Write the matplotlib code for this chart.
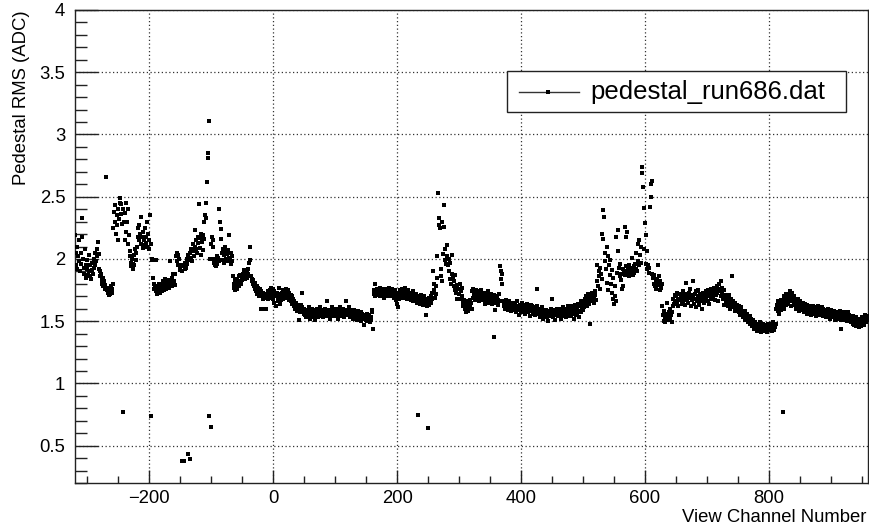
import numpy as np
import matplotlib
matplotlib.use("Agg")
import matplotlib.pyplot as plt
from matplotlib.patches import Rectangle
from matplotlib.lines import Line2D
from matplotlib.ticker import MultipleLocator, FuncFormatter

plt.rcParams['font.family'] = ['Liberation Sans', 'DejaVu Sans']

# Pedestal RMS per view channel, in blocks of 160 channels (first channel given by the key)
rms_m320 = [
    2.19, 2.05, 1.95, 2.10, 1.92, 2.02, 1.98, 2.15, 1.90, 2.05,
    1.96, 2.18, 2.33, 2.00, 1.93, 1.88, 2.08, 1.95, 1.85, 1.99,
    1.92, 1.87, 2.03, 1.90, 1.86, 1.95, 1.84, 1.91, 1.97, 1.88,
    1.93, 2.00, 1.95, 2.05, 1.98, 2.02, 2.08, 2.14, 2.04, 1.92,
    1.90, 1.86, 1.88, 1.83, 1.80, 1.85, 1.78, 1.82, 1.76, 1.79,
    2.66, 1.75, 1.77, 1.73, 1.76, 1.71, 1.74, 1.72, 1.78, 1.73,
    1.76, 1.80, 2.25, 2.38, 2.30, 2.43, 2.20, 2.27, 2.35, 2.15,
    2.40, 2.32, 2.45, 2.49, 2.36, 2.44, 2.28, 2.40, 0.77, 2.30,
    2.37, 2.15, 2.45, 2.22, 2.30, 2.12, 2.40, 2.19, 2.06, 2.02,
    1.97, 1.94, 2.00, 1.92, 1.96, 2.03, 1.95, 2.08, 1.99, 2.05,
    2.10, 2.18, 2.25, 2.15, 2.27, 2.20, 2.12, 2.34, 2.18, 2.22,
    2.09, 2.15, 2.11, 2.25, 2.18, 2.13, 2.30, 2.10, 2.20, 2.08,
    2.15, 2.35, 2.12, 0.74, 2.00, 1.99, 1.85, 1.80, 1.76, 1.78,
    1.99, 1.74, 1.78, 1.72, 1.77, 1.75, 1.80, 1.73, 1.76, 1.79,
    1.74, 1.78, 1.82, 1.75, 1.77, 1.84, 1.79, 1.76, 1.81, 1.78,
    1.80, 1.77, 1.83, 1.79, 1.98, 1.82, 1.85, 1.78, 1.88, 1.80,
]
rms_m160 = [
    1.82, 1.88, 1.79, 2.02, 2.05, 1.98, 2.03, 1.95, 2.00, 1.93,
    1.91, 1.95, 0.38, 1.90, 0.38, 1.94, 0.38, 1.92, 1.97, 1.93,
    2.00, 1.96, 2.03, 0.43, 1.99, 0.39, 2.05, 2.01, 2.08, 1.98,
    2.06, 2.12, 2.02, 2.10, 2.23, 2.08, 2.15, 2.05, 2.13, 2.18,
    2.44, 2.09, 2.17, 2.20, 2.03, 2.14, 2.19, 2.07, 2.16, 2.30,
    2.35, 2.45, 2.33, 2.62, 2.85, 2.81, 3.11, 0.74, 2.00, 0.65,
    2.12, 2.18, 2.10, 2.15, 1.97, 2.00, 1.95, 1.99, 1.94, 2.02,
    1.96, 2.01, 1.98, 2.40, 2.30, 2.24, 2.16, 2.05, 1.99, 2.08,
    2.03, 1.97, 2.10, 2.00, 2.06, 1.98, 2.04, 2.07, 2.19, 2.01,
    1.99, 2.05, 1.96, 2.02, 1.98, 1.86, 1.80, 1.77, 1.83, 1.75,
    1.79, 1.84, 1.76, 1.81, 1.86, 1.78, 1.82, 1.87, 1.80, 1.85,
    1.83, 1.88, 1.86, 1.91, 1.84, 1.89, 1.87, 1.90, 1.85, 1.92,
    1.88, 1.97, 2.10, 1.99, 1.86, 1.84, 1.82, 1.80, 1.83, 1.78,
    1.76, 1.81, 1.74, 1.78, 1.72, 1.77, 1.75, 1.70, 1.73, 1.76,
    1.60, 1.74, 1.71, 1.68, 1.73, 1.60, 1.70, 1.72, 1.69, 1.60,
    1.71, 1.74, 1.68, 1.72, 1.75, 1.69, 1.77, 1.73, 1.70, 1.76,
]
rms_0 = [
    1.68, 1.74, 1.65, 1.71, 1.62, 1.70, 1.73, 1.66, 1.69, 1.77,
    1.72, 1.64, 1.70, 1.67, 1.73, 1.68, 1.75, 1.71, 1.74, 1.69,
    1.76, 1.72, 1.74, 1.70, 1.75, 1.67, 1.73, 1.69, 1.71, 1.66,
    1.70, 1.64, 1.68, 1.62, 1.66, 1.60, 1.65, 1.61, 1.63, 1.58,
    1.62, 1.51, 1.60, 1.57, 1.63, 1.59, 1.61, 1.73, 1.58, 1.56,
    1.60, 1.55, 1.58, 1.53, 1.57, 1.59, 1.54, 1.61, 1.56, 1.52,
    1.58, 1.55, 1.60, 1.53, 1.57, 1.54, 1.59, 1.56, 1.51, 1.58,
    1.55, 1.60, 1.57, 1.53, 1.58, 1.56, 1.61, 1.54, 1.57, 1.59,
    1.56, 1.53, 1.58, 1.55, 1.60, 1.57, 1.54, 1.66, 1.58, 1.55,
    1.59, 1.56, 1.52, 1.58, 1.55, 1.61, 1.57, 1.54, 1.59, 1.56,
    1.58, 1.54, 1.60, 1.56, 1.52, 1.57, 1.59, 1.55, 1.61, 1.57,
    1.54, 1.58, 1.56, 1.60, 1.53, 1.57, 1.55, 1.66, 1.59, 1.56,
    1.58, 1.55, 1.61, 1.57, 1.53, 1.59, 1.56, 1.54, 1.58, 1.52,
    1.56, 1.59, 1.53, 1.57, 1.55, 1.51, 1.58, 1.54, 1.56, 1.52,
    1.55, 1.50, 1.57, 1.53, 1.56, 1.52, 1.54, 1.47, 1.55, 1.51,
    1.53, 1.56, 1.50, 1.54, 1.52, 1.55, 1.49, 1.53, 1.51, 1.57,
]
rms_160 = [
    1.59, 1.44, 1.72, 1.75, 1.70, 1.80, 1.74, 1.71, 1.76, 1.73,
    1.75, 1.72, 1.77, 1.70, 1.74, 1.76, 1.71, 1.73, 1.75, 1.69,
    1.74, 1.72, 1.76, 1.70, 1.73, 1.75, 1.71, 1.77, 1.72, 1.74,
    1.70, 1.73, 1.76, 1.71, 1.74, 1.69, 1.72, 1.75, 1.67, 1.70,
    1.64, 1.61, 1.73, 1.68, 1.75, 1.71, 1.74, 1.70, 1.76, 1.72,
    1.69, 1.73, 1.77, 1.70, 1.74, 1.71, 1.68, 1.75, 1.72, 1.69,
    1.73, 1.70, 1.67, 1.72, 1.69, 1.74, 1.66, 1.71, 1.68, 1.70,
    1.67, 1.72, 1.65, 0.75, 1.69, 1.66, 1.70, 1.64, 1.68, 1.71,
    1.65, 1.69, 1.63, 1.67, 1.70, 1.64, 1.55, 1.68, 1.62, 1.66,
    0.64, 1.69, 1.63, 1.67, 1.65, 1.70, 1.73, 1.68, 1.90, 1.80,
    1.75, 1.69, 1.72, 1.78, 1.85, 2.02, 2.53, 2.33, 2.27, 2.25,
    1.92, 1.86, 2.30, 1.82, 2.04, 2.43, 2.26, 1.99, 2.08, 1.96,
    2.02, 2.11, 1.95, 1.90, 2.00, 1.84, 1.97, 1.80, 2.03, 1.88,
    1.85, 1.78, 1.82, 1.75, 1.87, 1.73, 1.68, 1.79, 1.76, 1.68,
    1.72, 1.68, 1.80, 1.74, 1.77, 1.70, 1.65, 1.62, 1.67, 1.60,
    1.63, 1.57, 1.66, 1.61, 1.58, 1.64, 1.60, 1.67, 1.62, 1.65,
]
rms_320 = [
    1.60, 1.74, 1.76, 1.69, 1.72, 1.67, 1.73, 1.70, 1.75, 1.68,
    1.71, 1.74, 1.66, 1.72, 1.69, 1.75, 1.70, 1.73, 1.67, 1.71,
    1.69, 1.73, 1.64, 1.70, 1.72, 1.66, 1.74, 1.68, 1.71, 1.65,
    1.70, 1.67, 1.72, 1.64, 1.69, 1.66, 1.71, 1.37, 1.59, 1.68,
    1.65, 1.70, 1.63, 1.67, 1.72, 1.66, 1.94, 1.90, 1.84, 1.80,
    1.88, 1.66, 1.62, 1.65, 1.60, 1.64, 1.67, 1.61, 1.63, 1.59,
    1.66, 1.62, 1.60, 1.64, 1.58, 1.63, 1.61, 1.65, 1.59, 1.62,
    1.60, 1.64, 1.57, 1.62, 1.66, 1.59, 1.61, 1.55, 1.63, 1.60,
    1.58, 1.62, 1.65, 1.57, 1.61, 1.59, 1.63, 1.56, 1.60, 1.64,
    1.59, 1.62, 1.57, 1.61, 1.54, 1.60, 1.63, 1.58, 1.62, 1.56,
    1.60, 1.57, 1.61, 1.55, 1.59, 1.62, 1.76, 1.58, 1.56, 1.60,
    1.57, 1.53, 1.59, 1.55, 1.61, 1.56, 1.52, 1.58, 1.54, 1.57,
    1.55, 1.59, 1.53, 1.57, 1.50, 1.56, 1.58, 1.54, 1.60, 1.55,
    1.68, 1.57, 1.53, 1.59, 1.55, 1.51, 1.58, 1.56, 1.60, 1.54,
    1.57, 1.60, 1.55, 1.58, 1.52, 1.59, 1.56, 1.61, 1.54, 1.58,
    1.56, 1.60, 1.53, 1.58, 1.55, 1.62, 1.57, 1.54, 1.59, 1.56,
]
rms_480 = [
    1.58, 1.54, 1.62, 1.56, 1.60, 1.52, 1.57, 1.63, 1.55, 1.59,
    1.61, 1.56, 1.64, 1.58, 1.53, 1.62, 1.66, 1.57, 1.60, 1.63,
    1.59, 1.65, 1.61, 1.68, 1.63, 1.70, 1.66, 1.62, 1.72, 1.67,
    1.64, 1.69, 1.48, 1.71, 1.66, 1.73, 1.68, 1.65, 1.70, 1.74,
    1.71, 1.67, 1.82, 1.95, 1.78, 1.90, 1.86, 1.93, 1.76, 1.88,
    1.84, 2.20, 2.16, 2.39, 2.34, 1.98, 2.05, 1.92, 2.10, 1.81,
    2.02, 1.75, 1.95, 1.87, 1.99, 1.80, 1.73, 1.91, 1.68, 1.85,
    1.64, 1.70, 1.78, 1.66, 2.18, 1.89, 2.23, 2.06, 1.93, 1.86,
    1.96, 1.88, 1.83, 1.76, 1.92, 1.78, 1.90, 1.87, 2.26, 2.18,
    1.94, 2.22, 1.89, 1.92, 1.86, 1.95, 1.90, 1.88, 1.93, 2.01,
    1.91, 1.87, 1.94, 1.89, 1.96, 1.92, 2.05, 1.90, 2.12, 1.98,
    2.15, 1.95, 2.03, 1.97, 2.10, 2.74, 2.69, 2.58, 2.41, 2.08,
    2.29, 1.96, 2.19, 2.06, 1.92, 1.95, 1.89, 1.93, 2.42, 2.50,
    2.60, 2.63, 1.88, 1.85, 1.80, 1.87, 1.78, 1.83, 1.76, 1.84,
    1.81, 1.95, 1.79, 1.86, 1.75, 1.82, 1.77, 1.80, 1.62, 1.55,
    1.50, 1.58, 1.53, 1.49, 1.56, 1.52, 1.65, 1.54, 1.51, 1.57,
]
rms_640 = [
    1.52, 1.60, 1.55, 1.49, 1.57, 1.62, 1.68, 1.64, 1.71, 1.66,
    1.70, 1.65, 1.73, 1.68, 1.62, 1.55, 1.72, 1.67, 1.70, 1.64,
    1.69, 1.74, 1.66, 1.71, 1.68, 1.63, 1.72, 1.81, 1.67, 1.70,
    1.65, 1.73, 1.69, 1.76, 1.62, 1.71, 1.67, 1.82, 1.70, 1.64,
    1.72, 1.68, 1.61, 1.74, 1.66, 1.70, 1.75, 1.63, 1.69, 1.72,
    1.66, 1.71, 1.60, 1.68, 1.73, 1.65, 1.70, 1.67, 1.74, 1.69,
    1.72, 1.66, 1.75, 1.70, 1.64, 1.73, 1.68, 1.76, 1.71, 1.74,
    1.69, 1.77, 1.72, 1.67, 1.75, 1.71, 1.78, 1.73, 1.66, 1.76,
    1.80, 1.74, 1.82, 1.70, 1.77, 1.72, 1.68, 1.75, 1.63, 1.71,
    1.66, 1.69, 1.64, 1.70, 1.62, 1.67, 1.71, 1.65, 1.60, 1.68,
    1.63, 1.86, 1.66, 1.61, 1.64, 1.58, 1.65, 1.62, 1.59, 1.63,
    1.60, 1.57, 1.62, 1.55, 1.59, 1.61, 1.56, 1.58, 1.53, 1.57,
    1.54, 1.58, 1.51, 1.55, 1.52, 1.56, 1.49, 1.53, 1.50, 1.54,
    1.48, 1.52, 1.46, 1.50, 1.47, 1.51, 1.44, 1.49, 1.45, 1.48,
    1.46, 1.42, 1.48, 1.44, 1.47, 1.43, 1.49, 1.45, 1.41, 1.46,
    1.44, 1.48, 1.42, 1.46, 1.43, 1.47, 1.45, 1.41, 1.48, 1.44,
]
rms_800 = [
    1.46, 1.43, 1.47, 1.44, 1.48, 1.42, 1.45, 1.49, 1.43, 1.47,
    1.45, 1.60, 1.48, 1.63, 1.58, 1.66, 1.61, 1.56, 1.64, 1.59,
    1.67, 1.62, 0.77, 1.65, 1.70, 1.60, 1.68, 1.63, 1.72, 1.66,
    1.69, 1.64, 1.71, 1.67, 1.74, 1.62, 1.70, 1.66, 1.73, 1.68,
    1.65, 1.70, 1.63, 1.67, 1.60, 1.66, 1.62, 1.68, 1.58, 1.64,
    1.61, 1.66, 1.59, 1.63, 1.60, 1.65, 1.57, 1.62, 1.59, 1.64,
    1.60, 1.56, 1.63, 1.58, 1.61, 1.57, 1.62, 1.59, 1.55, 1.60,
    1.58, 1.62, 1.56, 1.60, 1.57, 1.61, 1.54, 1.59, 1.56, 1.62,
    1.57, 1.60, 1.55, 1.59, 1.56, 1.61, 1.58, 1.54, 1.60, 1.57,
    1.55, 1.59, 1.56, 1.53, 1.58, 1.55, 1.60, 1.54, 1.57, 1.52,
    1.56, 1.59, 1.54, 1.57, 1.53, 1.58, 1.55, 1.51, 1.56, 1.54,
    1.57, 1.53, 1.56, 1.52, 1.55, 1.58, 1.51, 1.44, 1.54, 1.56,
    1.53, 1.57, 1.51, 1.55, 1.52, 1.56, 1.50, 1.54, 1.57, 1.52,
    1.55, 1.50, 1.53, 1.49, 1.52, 1.48, 1.54, 1.51, 1.47, 1.50,
    1.53, 1.46, 1.50, 1.48, 1.52, 1.45, 1.49, 1.47, 1.51, 1.46,
    1.50, 1.53, 1.48, 1.52, 1.47, 1.55, 1.49, 1.53, 1.51, 1.54,
]

blocks = {
    -320: rms_m320, -160: rms_m160, 0: rms_0, 160: rms_160,
    320: rms_320, 480: rms_480, 640: rms_640, 800: rms_800,
}
channels = np.concatenate([first + np.arange(len(v)) for first, v in blocks.items()])
rms = np.concatenate([np.asarray(v, dtype=float) for v in blocks.values()])

series_label = "pedestal_run686.dat"
x_title = "View Channel Number"
y_title = "Pedestal RMS (ADC)"

W, H = 869, 527
fig = plt.figure(figsize=(W / 100, H / 100), dpi=100)
ax_l, ax_r, ax_t, ax_b = 75, 868, 10, 483
ax = fig.add_axes([ax_l / W, 1 - ax_b / H, (ax_r - ax_l) / W, (ax_b - ax_t) / H])

ax.plot(channels, rms, linestyle='none', marker='s', markersize=2.8,
        markeredgewidth=0, color='black', zorder=3)

ax.set_xlim(-320, 960)
ax.set_ylim(0.2, 4.0)

ax.xaxis.set_major_locator(MultipleLocator(200))
ax.xaxis.set_minor_locator(MultipleLocator(50))
ax.yaxis.set_major_locator(MultipleLocator(0.5))
ax.yaxis.set_minor_locator(MultipleLocator(0.1))
ax.yaxis.set_major_formatter(FuncFormatter(lambda v, p: f"{v:g}"))

ax.tick_params(axis='both', which='both', direction='in', top=False, right=False,
               color='#222222', width=1.0, labelsize=13.3, labelcolor='black')
ax.tick_params(axis='y', which='major', length=16.5, pad=7)
ax.tick_params(axis='y', which='minor', length=8.6)
ax.tick_params(axis='x', which='major', length=9.4, pad=5)
ax.tick_params(axis='x', which='minor', length=5.0)

for s in ax.spines.values():
    s.set_color('#222222')
    s.set_linewidth(1.0)

ax.grid(True, which='major', linestyle=(0, (1, 2)), color='#333333', linewidth=0.9)
ax.set_axisbelow(True)

ax.set_xlabel(x_title, fontsize=13.3, loc='right')
ax.xaxis.set_label_coords(0.9975, -0.056)
ax.set_ylabel(y_title, fontsize=13.3, loc='top')
ax.yaxis.set_label_coords(-0.057, 1.0)

# Legend box
def axf(px, py):
    return (px - ax_l) / (ax_r - ax_l), (ax_b - py) / (ax_b - ax_t)

x0, y1 = axf(506.7, 70.7)
x1, y0 = axf(845.7, 112.3)
ax.add_patch(Rectangle((x0, y0), x1 - x0, y1 - y0, transform=ax.transAxes,
                       facecolor='white', edgecolor='#222222', linewidth=1.0, zorder=5))
lx0, yc = axf(519, 91.7)
lx1, _ = axf(579, 91.7)
lxm, _ = axf(548, 91.7)
ax.add_line(Line2D([lx0, lx1], [yc, yc], transform=ax.transAxes, color='#333333',
                   linewidth=1.0, zorder=6))
ax.add_line(Line2D([lxm], [yc], transform=ax.transAxes, marker='s', markersize=2.5,
                   markeredgewidth=0, color='black', zorder=7))
tx, _ = axf(590, 91.7)
ax.text(tx, yc, series_label, transform=ax.transAxes, fontsize=18.5,
        va='center', ha='left', zorder=7)

fig.savefig("out.png", dpi=100)
